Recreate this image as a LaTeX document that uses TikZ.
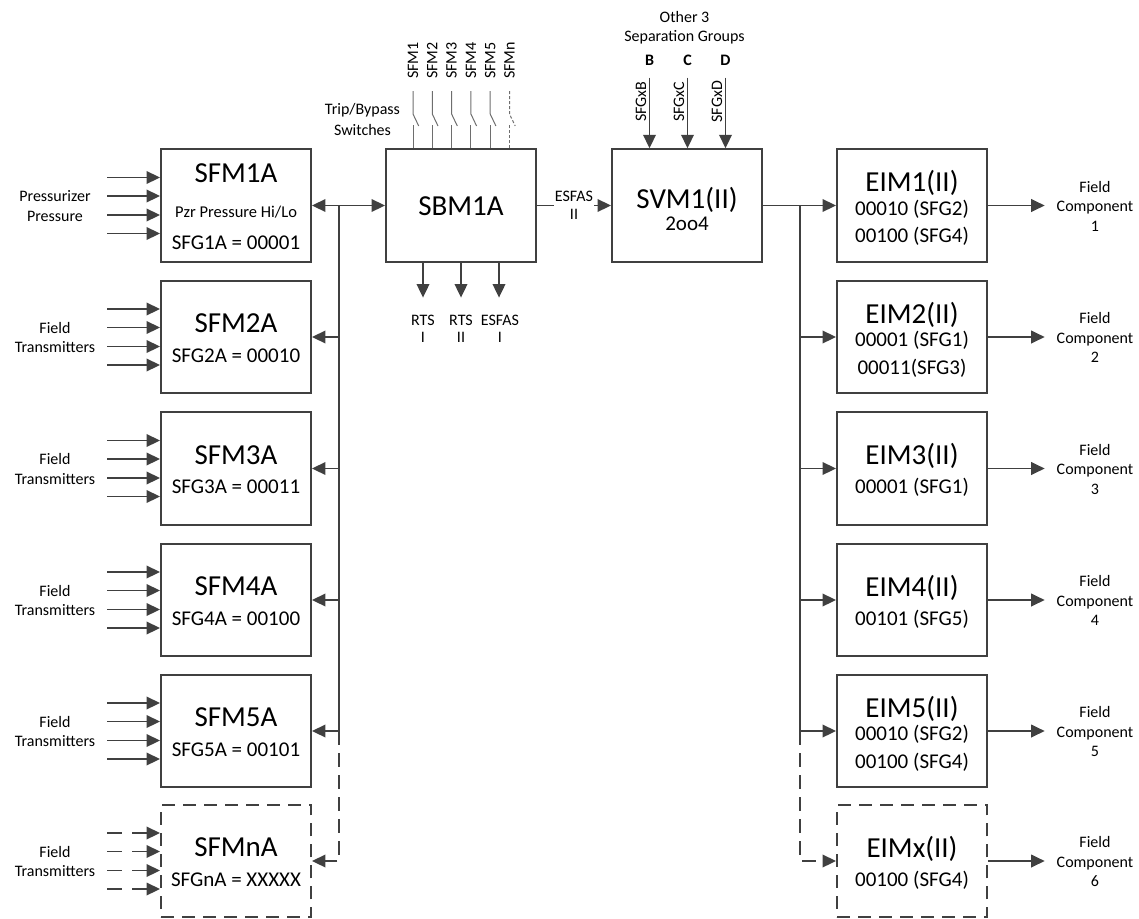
\documentclass[tikz,border=0pt]{standalone}
\usepackage{fontspec}
\setmainfont{Carlito}
\usetikzlibrary{arrows.meta}
\definecolor{linegray}{RGB}{64,64,64}
\definecolor{switchgray}{RGB}{110,110,110}

\begin{document}
\begin{tikzpicture}[
    x=1pt, y=-1pt,
    >={Triangle[length=13.5pt,width=12.5pt]},
    modbox/.style={draw=linegray, line width=1.9pt, minimum width=150pt, minimum height=112.5pt, inner sep=0pt},
    dashbox/.style={modbox, dash pattern=on 13pt off 8pt},
    title/.style={anchor=base, inner sep=0pt, font=\fontsize{29}{29}\selectfont},
    subtext/.style={anchor=base, inner sep=0pt, font=\fontsize{21}{21}\selectfont},
    lbl/.style={align=center, inner sep=0pt, font=\fontsize{16}{19.5}\selectfont},
    fclbl/.style={lbl, outer sep=12pt},
    sig/.style={->, draw=linegray, line width=1.9pt},
    bus/.style={draw=linegray, line width=1.9pt},
    dashsig/.style={sig, dash pattern=on 14pt off 8pt},
    dashin/.style={sig, dash pattern=on 15pt off 10pt on 40pt off 1pt},
    sw/.style={draw=switchgray, line width=1pt},
]

\useasboundingbox (0,0) rectangle (1139,918);

% ---------------- SFM (separation groups) ----------------

\node[modbox] (sfm1) at (236,205.5) {};
\node[title] (sfm1a) at (236,182.3) {SFM1A};
\node[anchor=base, inner sep=0pt, font=\fontsize{16.5}{16.5}\selectfont] (sfm1b) at (236,217.3) {Pzr Pressure Hi/Lo};
\node[subtext] (sfm1c) at (236,249) {SFG1A = 00001};

\node[modbox] (sfm2) at (236,337) {};
\node[title] (sfm2a) at (236,332.7) {SFM2A};
\node[subtext] (sfm2b) at (236,362.3) {SFG2A = 00010};

\node[modbox] (sfm3) at (236,468.5) {};
\node[title] (sfm3a) at (236,464.2) {SFM3A};
\node[subtext] (sfm3b) at (236,493.8) {SFG3A = 00011};

\node[modbox] (sfm4) at (236,600) {};
\node[title] (sfm4a) at (236,595.7) {SFM4A};
\node[subtext] (sfm4b) at (236,625.3) {SFG4A = 00100};

\node[modbox] (sfm5) at (236,731) {};
\node[title] (sfm5a) at (236,726.7) {SFM5A};
\node[subtext] (sfm5b) at (236,756.3) {SFG5A = 00101};

\node[dashbox] (sfmn) at (236,861) {};
\node[title] (sfmna) at (236,856.7) {SFMnA};
\node[subtext] (sfmnb) at (236,886.3) {SFGnA = XXXXX};

% inputs
\node[lbl] (in1) at (55,206) {Pressurizer\\Pressure};
\node[lbl] (in2) at (55,337.5) {Field\\Transmitters};
\node[lbl] (in3) at (55,469) {Field\\Transmitters};
\node[lbl] (in4) at (55,600.5) {Field\\Transmitters};
\node[lbl] (in5) at (55,731.5) {Field\\Transmitters};
\node[lbl] (inn) at (55,861.5) {Field\\Transmitters};

\draw[sig] ([shift={(-53,-28)}]sfm1.west) -- ([shift={(0,-28)}]sfm1.west);
\draw[sig] ([shift={(-53,-9.5)}]sfm1.west) -- ([shift={(0,-9.5)}]sfm1.west);
\draw[sig] ([shift={(-53,9.5)}]sfm1.west) -- ([shift={(0,9.5)}]sfm1.west);
\draw[sig] ([shift={(-53,28)}]sfm1.west) -- ([shift={(0,28)}]sfm1.west);

\draw[sig] ([shift={(-53,-28)}]sfm2.west) -- ([shift={(0,-28)}]sfm2.west);
\draw[sig] ([shift={(-53,-9.5)}]sfm2.west) -- ([shift={(0,-9.5)}]sfm2.west);
\draw[sig] ([shift={(-53,9.5)}]sfm2.west) -- ([shift={(0,9.5)}]sfm2.west);
\draw[sig] ([shift={(-53,28)}]sfm2.west) -- ([shift={(0,28)}]sfm2.west);

\draw[sig] ([shift={(-53,-28)}]sfm3.west) -- ([shift={(0,-28)}]sfm3.west);
\draw[sig] ([shift={(-53,-9.5)}]sfm3.west) -- ([shift={(0,-9.5)}]sfm3.west);
\draw[sig] ([shift={(-53,9.5)}]sfm3.west) -- ([shift={(0,9.5)}]sfm3.west);
\draw[sig] ([shift={(-53,28)}]sfm3.west) -- ([shift={(0,28)}]sfm3.west);

\draw[sig] ([shift={(-53,-28)}]sfm4.west) -- ([shift={(0,-28)}]sfm4.west);
\draw[sig] ([shift={(-53,-9.5)}]sfm4.west) -- ([shift={(0,-9.5)}]sfm4.west);
\draw[sig] ([shift={(-53,9.5)}]sfm4.west) -- ([shift={(0,9.5)}]sfm4.west);
\draw[sig] ([shift={(-53,28)}]sfm4.west) -- ([shift={(0,28)}]sfm4.west);

\draw[sig] ([shift={(-53,-28)}]sfm5.west) -- ([shift={(0,-28)}]sfm5.west);
\draw[sig] ([shift={(-53,-9.5)}]sfm5.west) -- ([shift={(0,-9.5)}]sfm5.west);
\draw[sig] ([shift={(-53,9.5)}]sfm5.west) -- ([shift={(0,9.5)}]sfm5.west);
\draw[sig] ([shift={(-53,28)}]sfm5.west) -- ([shift={(0,28)}]sfm5.west);

\draw[dashin] ([shift={(-53,-28)}]sfmn.west) -- ([shift={(0,-28)}]sfmn.west);
\draw[dashin] ([shift={(-53,-9.5)}]sfmn.west) -- ([shift={(0,-9.5)}]sfmn.west);
\draw[dashin] ([shift={(-53,9.5)}]sfmn.west) -- ([shift={(0,9.5)}]sfmn.west);
\draw[dashin] ([shift={(-53,28)}]sfmn.west) -- ([shift={(0,28)}]sfmn.west);

% ---------------- SBM ----------------

\node[modbox] (sbm) at (461,205.5) {};
\node[title] (sbma) at (461,215) {SBM1A};

% bus to the SFMs
\coordinate (busL) at (339.3,0);
\draw[sig, <->] (sfm1.east) -- (sbm.west);
\draw[bus] (sfm1.east -| busL) -- (sfm5.east -| busL);
\draw[sig] (sfm2.east -| busL) -- (sfm2.east);
\draw[sig] (sfm3.east -| busL) -- (sfm3.east);
\draw[sig] (sfm4.east -| busL) -- (sfm4.east);
\draw[sig] (sfm5.east -| busL) -- (sfm5.east);
\draw[dashsig] (sfm5.east -| busL) -- (sfmn.east -| busL) -- (sfmn.east);

% trip/bypass switches
\node[lbl, font=\fontsize{16}{20.5}\selectfont] (trip) at (362.5,119.5) {Trip/Bypass\\Switches};

\coordinate (sw1) at (413,91);
\coordinate (sw2) at (432.3,91);
\coordinate (sw3) at (451.6,91);
\coordinate (sw4) at (470.9,91);
\coordinate (sw5) at (490.2,91);
\coordinate (swn) at (509.5,91);

\node[lbl, rotate=90, anchor=west] (swl1) at (413,79) {SFM1};
\node[lbl, rotate=90, anchor=west] (swl2) at (432.3,79) {SFM2};
\node[lbl, rotate=90, anchor=west] (swl3) at (451.6,79) {SFM3};
\node[lbl, rotate=90, anchor=west] (swl4) at (470.9,79) {SFM4};
\node[lbl, rotate=90, anchor=west] (swl5) at (490.2,79) {SFM5};
\node[lbl, rotate=90, anchor=west] (swln) at (509.5,79) {SFMn};

\draw[sw] (sw1) -- ++(0,23) -- ++(5.7,12);
\draw[sw] (sw1 |- sbm.north) -- ++(0,-23);
\draw[sw] (sw2) -- ++(0,23) -- ++(5.7,12);
\draw[sw] (sw2 |- sbm.north) -- ++(0,-23);
\draw[sw] (sw3) -- ++(0,23) -- ++(5.7,12);
\draw[sw] (sw3 |- sbm.north) -- ++(0,-23);
\draw[sw] (sw4) -- ++(0,23) -- ++(5.7,12);
\draw[sw] (sw4 |- sbm.north) -- ++(0,-23);
\draw[sw] (sw5) -- ++(0,23) -- ++(5.7,12);
\draw[sw] (sw5 |- sbm.north) -- ++(0,-23);
\draw[sw, dash pattern=on 3pt off 2pt] (swn) -- ++(0,23) -- ++(5.7,12);
\draw[sw, dash pattern=on 3pt off 2pt] (swn |- sbm.north) -- ++(0,-23);

% outputs to the other divisions
\node[lbl, font=\fontsize{16}{17}\selectfont] (rtsI) at (423,329) {RTS\\I};
\node[lbl, font=\fontsize{16}{17}\selectfont] (rtsII) at (461,329) {RTS\\II};
\node[lbl, font=\fontsize{16}{17}\selectfont] (esfasI) at (500,329) {ESFAS\\I};

\draw[sig] (rtsI.north |- sbm.south) -- ([yshift=17.5pt]rtsI.north);
\draw[sig] (rtsII.north |- sbm.south) -- ([yshift=17.5pt]rtsII.north);
\draw[sig] ([xshift=-1pt]esfasI.north |- sbm.south) -- ([shift={(-1pt,17.5pt)}]esfasI.north);

% ---------------- SVM ----------------

\node[modbox] (svm) at (687,205.5) {};
\node[title] (svma) at (687,208.3) {SVM1(II)};
\node[subtext] (svmb) at (687,230) {2oo4};

\draw[sig] (sbm.east) -- (svm.west)
    node[midway, fill=white, inner sep=0.5pt, align=center, font=\fontsize{16}{17.6}\selectfont] (esfasII) {ESFAS\\II};

% other separation groups
\node[lbl] (others) at (684.5,27.6) {Other 3\\Separation Groups};

\node[anchor=base, inner sep=0pt, font=\fontsize{16}{16}\selectfont\bfseries] (grpB) at (649.5,65.7) {B};
\node[anchor=base, inner sep=0pt, font=\fontsize{16}{16}\selectfont\bfseries] (grpC) at (687.5,65.7) {C};
\node[anchor=base, inner sep=0pt, font=\fontsize{16}{16}\selectfont\bfseries] (grpD) at (725.5,65.7) {D};

\draw[sig] ([yshift=-12pt]grpB.base) -- (grpB.base |- svm.north);
\draw[sig] ([yshift=-12pt]grpC.base) -- (grpC.base |- svm.north);
\draw[sig] ([yshift=-12pt]grpD.base) -- (grpD.base |- svm.north);

\node[lbl, rotate=90, anchor=south] (sfgB) at (646.5,101.7) {SFGxB};
\node[lbl, rotate=90, anchor=south] (sfgC) at (684.5,101.7) {SFGxC};
\node[lbl, rotate=90, anchor=south] (sfgD) at (722.5,101.7) {SFGxD};

% ---------------- EIM ----------------

\node[modbox] (eim1) at (912,205.5) {};
\node[title] (eim1a) at (912,191.8) {EIM1(II)};
\node[subtext] (eim1b) at (912,215.1) {00010 (SFG2)};
\node[subtext] (eim1c) at (912,242.9) {00100 (SFG4)};

\node[modbox] (eim2) at (912,337) {};
\node[title] (eim2a) at (912,323.3) {EIM2(II)};
\node[subtext] (eim2b) at (912,346.6) {00001 (SFG1)};
\node[subtext] (eim2c) at (912,374.4) {00011(SFG3)};

\node[modbox] (eim3) at (912,468.5) {};
\node[title] (eim3a) at (912,464.7) {EIM3(II)};
\node[subtext] (eim3b) at (912,493.7) {00001 (SFG1)};

\node[modbox] (eim4) at (912,600) {};
\node[title] (eim4a) at (912,596.2) {EIM4(II)};
\node[subtext] (eim4b) at (912,625.2) {00101 (SFG5)};

\node[modbox] (eim5) at (912,731) {};
\node[title] (eim5a) at (912,717.3) {EIM5(II)};
\node[subtext] (eim5b) at (912,740.6) {00010 (SFG2)};
\node[subtext] (eim5c) at (912,768.4) {00100 (SFG4)};

\node[dashbox] (eimx) at (912,861) {};
\node[title] (eimxa) at (912,857.2) {EIMx(II)};
\node[subtext] (eimxb) at (912,886.2) {00100 (SFG4)};

% bus to the EIMs
\coordinate (busR) at (800,0);
\draw[sig] (svm.east) -- (eim1.west);
\draw[bus] (svm.east -| busR) -- (eim5.west -| busR);
\draw[sig] (eim2.west -| busR) -- (eim2.west);
\draw[sig] (eim3.west -| busR) -- (eim3.west);
\draw[sig] (eim4.west -| busR) -- (eim4.west);
\draw[sig] (eim5.west -| busR) -- (eim5.west);
\draw[dashsig] (eim5.west -| busR) -- (eimx.west -| busR) -- (eimx.west);

% field components
\node[fclbl] (fc1) at (1095,206) {Field\\Component\\1};
\node[fclbl] (fc2) at (1095,337.5) {Field\\Component\\2};
\node[fclbl] (fc3) at (1095,469) {Field\\Component\\3};
\node[fclbl] (fc4) at (1095,600.5) {Field\\Component\\4};
\node[fclbl] (fc5) at (1095,731.5) {Field\\Component\\5};
\node[fclbl] (fc6) at (1095,861.5) {Field\\Component\\6};

\draw[sig] (eim1.east) -- (eim1.east -| fc1.west);
\draw[sig] (eim2.east) -- (eim2.east -| fc2.west);
\draw[sig] (eim3.east) -- (eim3.east -| fc3.west);
\draw[sig] (eim4.east) -- (eim4.east -| fc4.west);
\draw[sig] (eim5.east) -- (eim5.east -| fc5.west);
\draw[sig] (eimx.east) -- (eimx.east -| fc6.west);

\end{tikzpicture}
\end{document}
